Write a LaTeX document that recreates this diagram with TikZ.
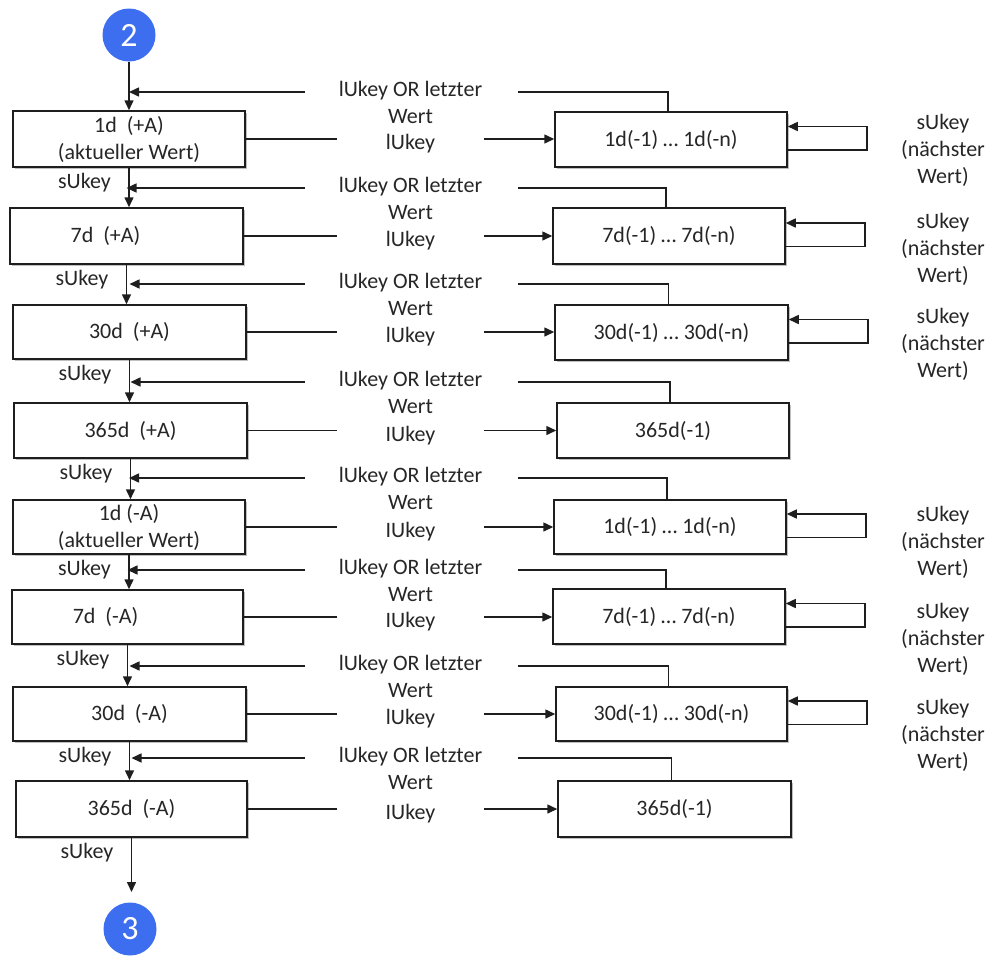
\documentclass[tikz,border=0pt]{standalone}
\usepackage{fontspec}
\setmainfont{Carlito}
\usetikzlibrary{arrows.meta,calc,shadows}
\definecolor{cblue}{RGB}{61,110,240}
\definecolor{lc}{RGB}{30,30,30}
\newcommand\mkbox[6]{\node[box,minimum width={(#4-#2)*1pt},minimum height={(#5-#3)*1pt}] (#1) at ({(#2+#4)/2},{(#3+#5)/2}) {#6};}
% row links: #1 index, #2 F (feedback y), #3 key text
\newcommand\rowlinks[3]{%
  \node[lbl] (fb#1) at (410.5,{#2+10}) {lUkey OR letzter\\Wert};
  \coordinate (a#1) at (305,#2);
  \coordinate (b#1) at (518,#2);
  \draw[arr] (a#1) -- (a#1 -| L#1.north);
  \draw[line] (b#1) -| ([xshift=-3pt]R#1.north);
  \node[lbl,minimum width=147pt,yshift=-5pt] (k#1) at (L#1.east -| xk) {#3};
  \draw[line] (L#1.east) -- (L#1.east -| k#1.west);
  \draw[arr] (k#1.east |- L#1.east) -- (R#1.west |- L#1.east);
}
% loop on right box: #1 index, #2 label node center y
\newcommand\rloop[2]{%
  \draw[arr] ($(R#1.east)+(0,10.5)$) -- ++(79,0) -- ++(0,-23.5) -- ($(R#1.east)+(0,-13)$);
  \node[lbl] (n#1) at (943,#2) {sUkey\\(nächster\\Wert)};
}
\begin{document}
\begin{tikzpicture}[x=1pt,y=-1pt,
  every node/.style={font=\fontsize{22}{27}\selectfont, text=black!85},
  line/.style={draw=lc, line width=1.5pt},
  arr/.style={line, -{Triangle[length=10pt,width=9pt]}},
  box/.style={draw=lc, line width=1.5pt, fill=white, align=center, inner sep=0pt,
    drop shadow={shadow xshift=1.5pt,shadow yshift=-1.5pt,opacity=0.25,fill=black}},
  lbl/.style={inner sep=0pt, align=center},
  circ/.style={circle, fill=cblue, minimum size=53pt, inner sep=0pt, text=white,
    font=\fontsize{34}{34}\selectfont}
]
\useasboundingbox (0,0) rectangle (996,956);
\coordinate (xk) at (410.5,0);

\node[circ] (c2) at (129,35) {2};
\node[circ] (c3) at (130,929) {3};

% left boxes
\mkbox{L1}{13}{111}{245}{167}{1d\ \ (+A)\\(aktueller Wert)}
\mkbox{L2}{10}{208}{243}{264}{7d\ \ (+A)\hspace*{42pt}}
\mkbox{L3}{13}{305}{246}{359}{30d\ \ (+A)}
\mkbox{L4}{14}{403}{247}{458}{365d\ \ (+A)}
\mkbox{L5}{13}{500}{245}{554}{1d (-A)\\(aktueller Wert)}
\mkbox{L6}{12}{590}{243}{644}{7d\ \ (-A)\hspace*{44pt}}
\mkbox{L7}{13}{687}{246}{741}{30d\ \ (-A)}
\mkbox{L8}{16}{781}{247}{837}{365d\ \ (-A)}

% right boxes
\mkbox{R1}{555}{112}{787}{167}{1d(-1) … 1d(-n)}
\mkbox{R2}{553}{208}{785}{264}{7d(-1) … 7d(-n)}
\mkbox{R3}{555}{305}{788}{360}{30d(-1) … 30d(-n)}
\mkbox{R4}{557}{403}{789}{458}{365d(-1)}
\mkbox{R5}{554}{500}{786}{554}{1d(-1) … 1d(-n)}
\mkbox{R6}{553}{589}{785}{644}{7d(-1) … 7d(-n)}
\mkbox{R7}{556}{687}{787}{741}{30d(-1) … 30d(-n)}
\mkbox{R8}{558}{781}{791}{837}{365d(-1)}

% spine
\coordinate (e3) at (131.5,892);
\draw[arr] (c2) -- (L1.north);
\foreach \i/\j in {1/2,2/3,3/4,4/5,5/6,6/7,7/8}{
  \draw[arr] (L\i.south) -- (L\i.south |- L\j.north);
  \node[lbl,anchor=east] (s\i) at ($(L\i.south)+(-18,15)$) {sUkey};
}
\draw[arr] (L8.south) -- (e3);
\node[lbl,anchor=east] (s8) at ($(L8.south)+(-18,15)$) {sUkey};

% rows
\rowlinks{1}{92}{lUkey}
\rowlinks{2}{188}{lUkey}
\rowlinks{3}{284}{lUkey}
\rowlinks{4}{382}{IUkey}
\rowlinks{5}{478}{IUkey}
\rowlinks{6}{570}{IUkey}
\rowlinks{7}{666}{lUkey}
\rowlinks{8}{758}{IUkey}

% loops
\rloop{1}{150.5}
\rloop{2}{249.5}
\rloop{3}{344.5}
\rloop{5}{542.5}
\rloop{6}{639.5}
\rloop{7}{735.5}
\end{tikzpicture}
\end{document}
